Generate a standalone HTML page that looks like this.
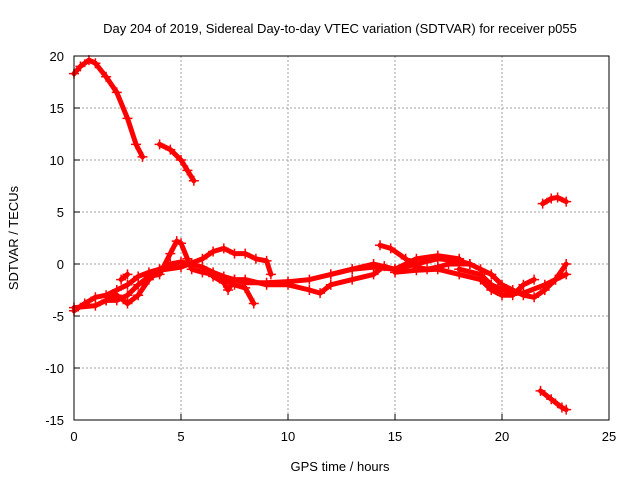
<!DOCTYPE html>
<html><head><meta charset="utf-8"><style>
html,body{margin:0;padding:0;background:#fff;}
svg{display:block;font-family:"Liberation Sans",sans-serif;}
</style></head><body>
<svg id="chart" width="640" height="480">
<text x="340" y="33" font-size="13" text-anchor="middle">Day 204 of 2019, Sidereal Day-to-day VTEC variation (SDTVAR) for receiver p055</text>
<text x="340" y="471" font-size="13" text-anchor="middle">GPS time / hours</text>
<text transform="translate(18,238) rotate(-90)" font-size="13" text-anchor="middle">SDTVAR / TECUs</text>
<g id="grid"></g><g id="series"></g>
<rect x="74" y="56" width="535" height="364" fill="none" stroke="#000" stroke-width="1"/>
</svg>
<script>
const xTicks=[0,5,10,15,20,25];
const yTicks=[20,15,10,5,0,-5,-10,-15];
const track1=[[0,18.3],[0.3,19],[0.7,19.6],[1,19.3],[1.5,18],[2,16.5],[2.5,14],[2.9,11.5],[3.2,10.3]];
const track2=[[4,11.5],[4.5,11],[5,10],[5.3,9],[5.6,8]];
const track3=[[21.9,5.8],[22.3,6.3],[22.6,6.4],[23,6]];
const track4=[[21.8,-12.2],[22.3,-13],[22.8,-13.8],[23,-14]];
const trackA=[[0,-4.5],[0.5,-3.8],[1,-3.2],[1.5,-3],[2,-2.5],[2.5,-2],[3,-1.2],[3.5,-0.8],[4,-0.5],[4.5,0],[5,0.2],[5.5,0],[6,-0.3],[6.5,-0.8],[7,-1.2],[7.5,-1.5],[8,-1.8],[9,-1.8],[10,-1.7],[11,-1.5],[12,-1],[13,-0.5],[14,-0.3],[15,-0.5],[16,0],[17,0.5],[18,0.3],[18.5,0]];
const trackB=[[0,-4.2],[1,-4],[1.5,-3.5],[2,-3.5],[2.5,-3],[3,-2],[3.5,-1.2],[4,-1],[4.5,1],[4.8,2.2],[5,2],[5.3,0.5],[5.5,-0.5],[6,-0.8],[6.5,-1],[7,-1.5],[7.5,-2],[8,-2.3],[8.4,-3.8]];
const trackC=[[1.5,-3.5],[2,-3],[2.5,-3.8],[3,-3],[3.5,-1.5],[4,-0.6],[5,-0.3],[6,0.5],[6.5,1.2],[7,1.5],[7.5,1],[8,1],[8.5,0.5],[9,0.3],[9.2,-1]];
const trackD=[[6.5,-1.2],[7,-1.8],[7.2,-2.5],[7.5,-1.5],[8,-1.5],[9,-2],[10,-2],[11,-2.5],[11.5,-2.8],[12,-2],[13,-1.5],[14,-1],[14.5,-0.2]];
const trackE=[[2.2,-1.5],[2.5,-1]];
const trackF=[[14.3,1.8],[14.8,1.5],[15.5,0.5],[16,-0.3],[16.5,-0.5],[17,-0.3],[17.5,0],[18,0],[18.5,0],[19,-0.5],[19.5,-1],[20,-2],[20.5,-2.5],[21,-3],[21.5,-3.2],[22,-2.5],[22.5,-1.5],[23,0]];
const trackG=[[15,-0.8],[16,-0.6],[17,-0.5],[18,-1],[19,-1.5],[19.5,-2.5],[20,-3],[20.5,-3],[21,-2],[21.5,-1.5]];
const trackH=[[18,-0.5],[19,-1],[19.5,-2],[20,-2.5],[21,-2.8],[22,-2],[22.5,-1.5],[23,-1]];
const trackI=[[12,-1],[13,-0.5],[14,0],[15,-0.5],[16,0.5],[17,0.8],[18,0.5]];
const tracks=[track1,track2,track3,track4,trackA,trackB,trackC,trackD,trackE,trackF,trackG,trackH,trackI];

const X0=74,X1=609,Y0=420,Y1=56,xmin=0,xmax=25,ymin=-15,ymax=20;
function sx(v){return X0+(v-xmin)/(xmax-xmin)*(X1-X0);}
function sy(v){return Y0-(v-ymin)/(ymax-ymin)*(Y0-Y1);}
const NS="http://www.w3.org/2000/svg";
const grid=document.getElementById('grid'),ser=document.getElementById('series');
function mk(t,a,p){const e=document.createElementNS(NS,t);for(const k in a)e.setAttribute(k,a[k]);p.appendChild(e);return e;}
xTicks.forEach(t=>{
  const x=sx(t);
  if(t>xmin&&t<xmax){const g=mk('line',{x1:x,x2:x,y1:Y1,y2:Y0,stroke:'#a0a0a0','stroke-dasharray':'2,2'},grid);
  
  }
  const tk=mk('line',{x1:x,x2:x,y1:Y0,y2:Y0-6,stroke:'#000'},grid);
  
  
  const lb=mk('text',{x:x,y:Y0+21,'font-size':13,'text-anchor':'middle'},grid);lb.textContent=t;
  
  
});
yTicks.forEach(t=>{
  const y=sy(t);
  if(t>ymin&&t<ymax){const g=mk('line',{x1:X0,x2:X1,y1:y,y2:y,stroke:'#a0a0a0','stroke-dasharray':'2,2'},grid);
  
  }
  const tk=mk('line',{x1:X0,x2:X0+6,y1:y,y2:y,stroke:'#000'},grid);
  
  
  const lb=mk('text',{x:X0-10,y:y+5,'font-size':13,'text-anchor':'end'},grid);lb.textContent=t;
  
  
});
tracks.forEach(tr=>{
  const pl=mk('polyline',{points:tr.map(p=>sx(p[0])+','+sy(p[1])).join(' '),fill:'none',stroke:'#ff0000','stroke-width':5,'stroke-linejoin':'round','stroke-linecap':'round'},ser);
  
  
  tr.forEach(p=>{
    const x=sx(p[0]),y=sy(p[1]);
    const m=mk('path',{d:`M${x-5},${y}H${x+5}M${x},${y-5}V${y+5}`,stroke:'#ff0000','stroke-width':1.5},ser);
    
    
  });
});
</script>
</body></html>
